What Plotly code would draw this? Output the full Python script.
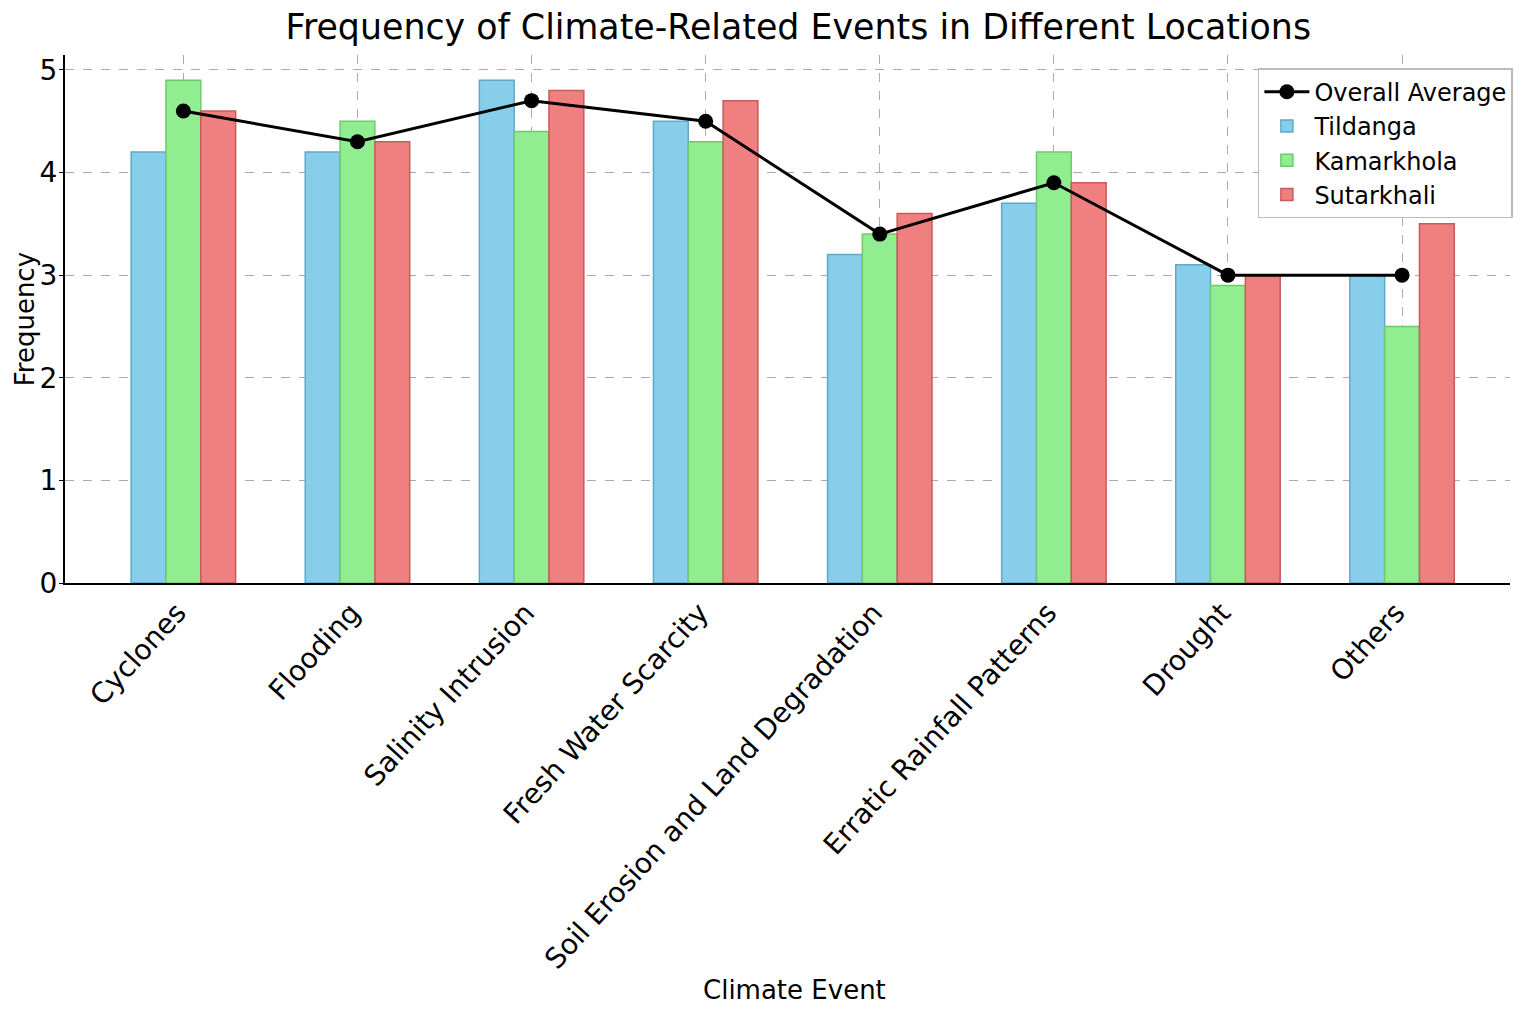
import plotly.graph_objects as go

events = ['Cyclones', 'Flooding', 'Salinity Intrusion', 'Fresh Water Scarcity',
          'Soil Erosion and Land Degradation', 'Erratic Rainfall Patterns',
          'Drought', 'Others']
tildanga = [4.2, 4.2, 4.9, 4.5, 3.2, 3.7, 3.1, 3.0]
kamarkhola = [4.9, 4.5, 4.4, 4.3, 3.4, 4.2, 2.9, 2.5]
sutarkhali = [4.6, 4.3, 4.8, 4.7, 3.6, 3.9, 3.0, 3.5]
overall_avg = [4.6, 4.3, 4.7, 4.5, 3.4, 3.9, 3.0, 3.0]

FONT = 'DejaVu Sans'

fig = go.Figure()

fig.add_trace(go.Scatter(
    x=events, y=overall_avg, name='Overall Average',
    mode='lines+markers',
    line={'color': 'black', 'width': 3},
    marker={'color': 'black', 'size': 15}))

for name, vals, color, edge in [('Tildanga', tildanga, '#87CEEB', '#5FA8C8'),
                                ('Kamarkhola', kamarkhola, '#90EE90', '#6CCB6C'),
                                ('Sutarkhali', sutarkhali, '#F08080', '#C85A5A')]:
    fig.add_trace(go.Bar(
        x=events, y=vals, name=name,
        marker={'color': color, 'line': {'color': edge, 'width': 1.5}}))

# page body has an 8px margin, so the figure is a bit smaller than the window
fig.update_layout(
    width=1527, height=1002,
    barmode='group', bargap=0.4, bargroupgap=0,
    plot_bgcolor='white', paper_bgcolor='white',
    margin={'l': 57, 'r': 25, 't': 47, 'b': 427, 'autoexpand': False},
    font={'family': FONT, 'color': 'black', 'size': 24},
    title={'text': 'Frequency of Climate-Related Events in Different Locations',
           'x': 0.5175, 'xanchor': 'center', 'y': 0.981, 'yanchor': 'middle',
           'font': {'size': 34.8, 'family': FONT}},
    legend={'x': 1.002, 'y': 0.975, 'xanchor': 'right', 'yanchor': 'top',
            'bgcolor': 'white', 'bordercolor': '#BBBBBB', 'borderwidth': 1.5,
            'font': {'size': 24, 'family': FONT}, 'traceorder': 'normal',
            'itemwidth': 45, 'tracegroupgap': 4},
    showlegend=True,
    annotations=[
        {'text': 'Frequency', 'xref': 'paper', 'yref': 'paper',
         'x': -0.0275, 'y': 0.5, 'xanchor': 'center', 'yanchor': 'middle',
         'textangle': -90, 'showarrow': False,
         'font': {'size': 26, 'family': FONT}},
        {'text': 'Climate Event', 'xref': 'paper', 'yref': 'paper',
         'x': 0.505, 'y': -0.771, 'xanchor': 'center', 'yanchor': 'middle',
         'showarrow': False, 'font': {'size': 26, 'family': FONT}},
    ],
)

fig.update_xaxes(
    range=[-0.68, 7.62], automargin=False,
    showline=True, linecolor='black', linewidth=2,
    showgrid=True, gridcolor='#AAAAAA', griddash='dash', gridwidth=1,
    tickangle=-47.5, tickfont={'size': 28}, ticklabelshift=-6,
)
fig.update_yaxes(
    range=[0, 5.145], automargin=False,
    tickvals=[0, 1, 2, 3, 4, 5],
    showline=True, linecolor='black', linewidth=2,
    showgrid=True, gridcolor='#AAAAAA', griddash='dash', gridwidth=1,
    ticks='outside', ticklen=4, tickcolor='black', ticklabelstandoff=-4,
    tickfont={'size': 28}, zeroline=False,
)

fig.write_html('out.html')
